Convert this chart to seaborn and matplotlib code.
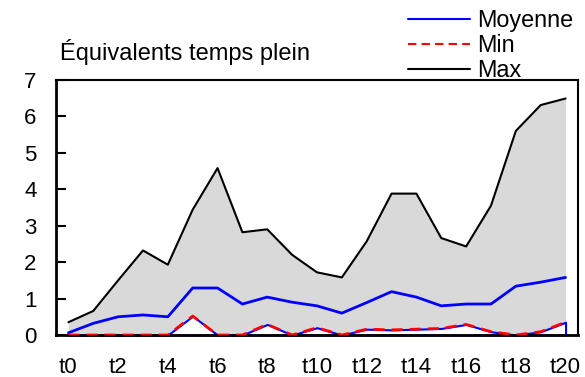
import matplotlib
matplotlib.use("Agg")
import matplotlib.pyplot as plt
import seaborn as sns
import pandas as pd
import numpy as np
from matplotlib.lines import Line2D

labels = [f"t{i}" for i in range(21)]
moyenne = [0.06, 0.32, 0.50, 0.55, 0.50, 1.29, 1.29, 0.85, 1.04, 0.90, 0.80,
           0.60, 0.89, 1.19, 1.04, 0.80, 0.85, 0.85, 1.34, 1.45, 1.58]
mini = [0.0, 0.0, 0.0, 0.0, 0.0, 0.52, 0.0, 0.0, 0.29, 0.0, 0.20,
        0.0, 0.16, 0.14, 0.16, 0.18, 0.29, 0.09, 0.0, 0.09, 0.35]
maxi = [0.35, 0.66, 1.50, 2.32, 1.93, 3.44, 4.58, 2.82, 2.90, 2.20, 1.72,
        1.58, 2.57, 3.88, 3.88, 2.66, 2.43, 3.55, 5.60, 6.31, 6.49]
title = "Équivalents temps plein"

sns.set_theme(style="white")
plt.rcParams['font.family'] = ['Liberation Sans', 'DejaVu Sans']
plt.rcParams['text.color'] = 'black'
plt.rcParams['xtick.color'] = 'black'
plt.rcParams['ytick.color'] = 'black'
plt.rcParams['xtick.labelcolor'] = 'black'
plt.rcParams['ytick.labelcolor'] = 'black'

df = pd.DataFrame({"x": np.arange(len(labels)), "Moyenne": moyenne,
                   "Min": mini, "Max": maxi})

fig = plt.figure(figsize=(5.85, 3.77), dpi=100)
ax = fig.add_axes([0.0957, 0.1114, 0.8923, 0.6766])

ax.fill_between(df["x"], df["Min"], df["Max"], color="#d9d9d9", lw=0, zorder=1)
ax.fill_between(df["x"], 0, df["Min"], facecolor="white", edgecolor="#0000ff",
                lw=1.5, zorder=2, clip_on=False)

sns.lineplot(data=df, x="x", y="Max", ax=ax, color="black", lw=1.5, zorder=3)
sns.lineplot(data=df, x="x", y="Moyenne", ax=ax, color="#0000ff", lw=2, zorder=4)
sns.lineplot(data=df, x="x", y="Min", ax=ax, color="#ff0000", lw=2, zorder=5)
ax.lines[-1].set_linestyle((0, (4, 2.5)))

ax.set_xlim(-0.5, len(labels) - 0.5)
ax.set_ylim(0, 7)
ax.set_xlabel("")
ax.set_ylabel("")
ax.set_yticks(range(0, 8))
ax.set_xticks(np.arange(0, len(labels), 2))
ax.set_xticklabels(labels[::2])
ax.set_xticks(np.arange(0.5, len(labels) - 1, 1), minor=True)
ax.tick_params(axis="x", which="major", length=0, pad=16, labelsize=16,
               labelcolor="black")
ax.tick_params(axis="x", which="minor", direction="in", length=7, width=1.5,
               color="black", bottom=True)
ax.tick_params(axis="y", which="major", direction="in", length=7, width=1.5,
               color="black", left=True, pad=14, labelsize=16,
               labelcolor="black")
for s in ax.spines.values():
    s.set_color("black")
    s.set_linewidth(1.5)
ax.spines["bottom"].set_linewidth(2)
ax.spines["left"].set_linewidth(2)

handles = [Line2D([], [], color="#0000ff", lw=1.5),
           Line2D([], [], color="#ff0000", lw=1.5, ls=(0, (4, 2.5))),
           Line2D([], [], color="black", lw=1.5)]
fig.legend(handles, ["Moyenne", "Min", "Max"], loc="upper left",
           bbox_to_anchor=(408 / 585, 0.975), frameon=False, fontsize=16.8,
           handlelength=2.66, labelspacing=0.08, handletextpad=0.3,
           borderaxespad=0, borderpad=0, labelcolor="black")
fig.text(0.103, 0.862, title, fontsize=17, ha="left", va="center",
         color="black")

fig.savefig("out.png", dpi=100)
